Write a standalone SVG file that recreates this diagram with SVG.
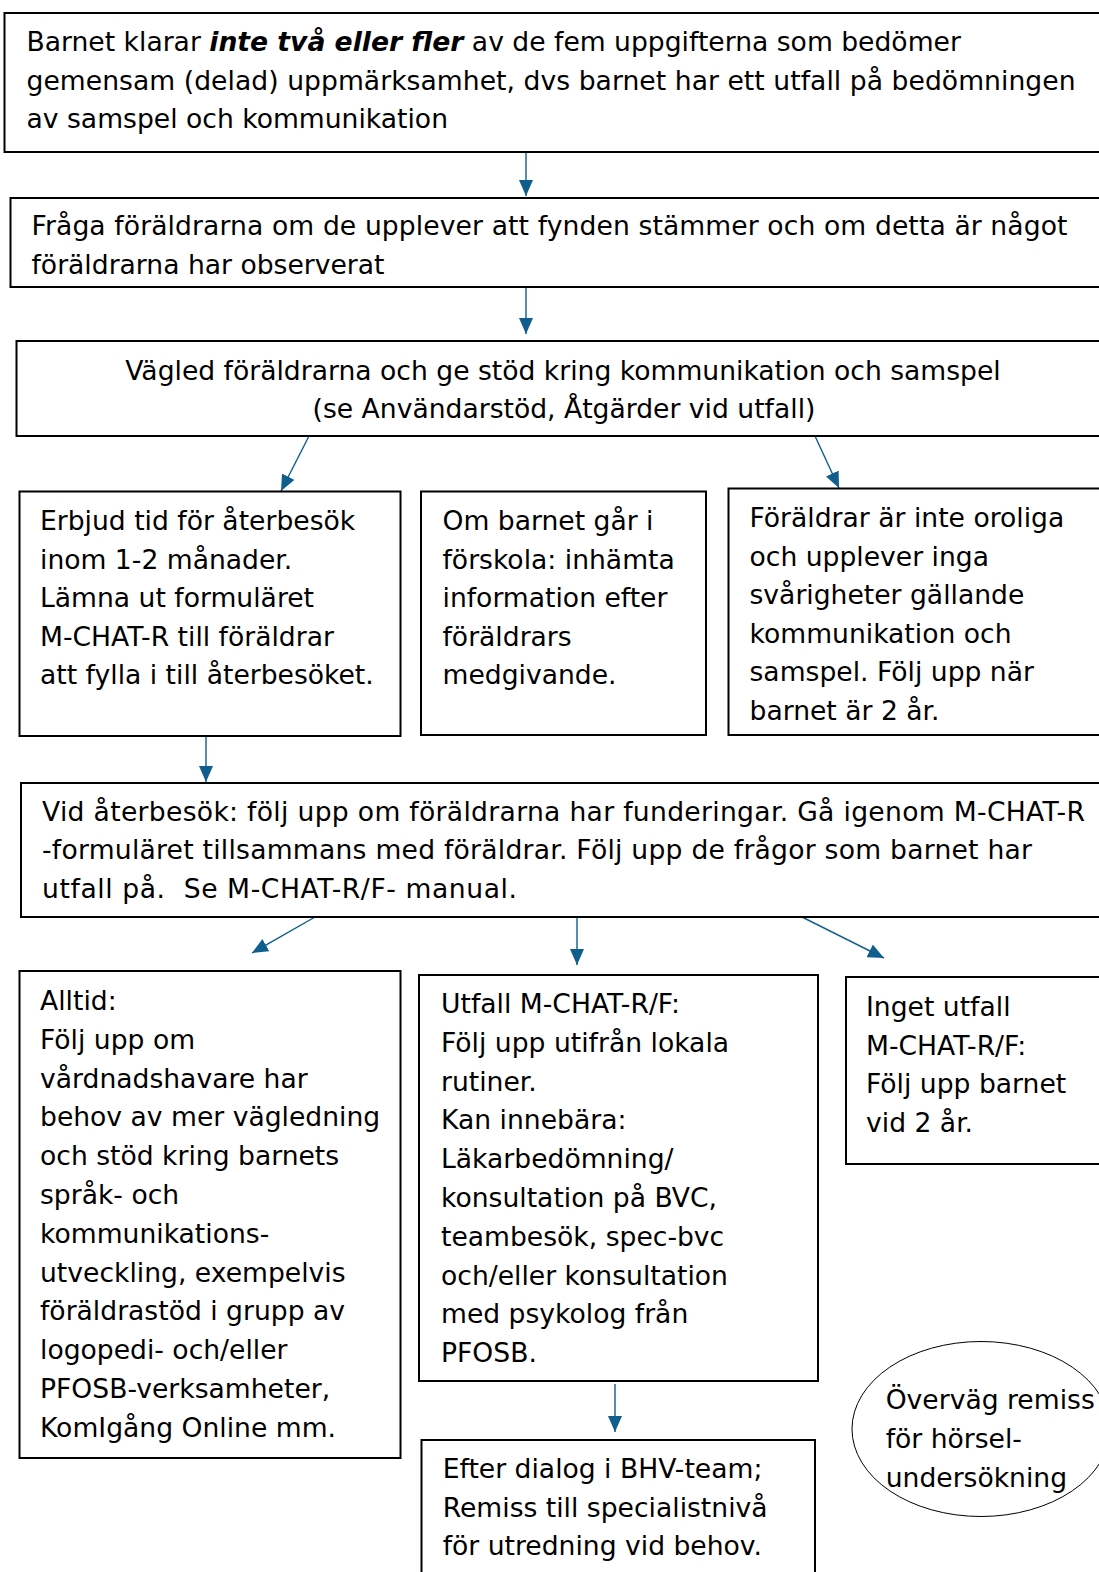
<svg xmlns="http://www.w3.org/2000/svg" width="1099" height="1572" viewBox="0 0 1099 1572">
<style>
.box{fill:#fff;stroke:#000;stroke-width:2}
.t{font-family:"DejaVu Sans","Noto Sans",sans-serif;font-size:26.6px;fill:#000;white-space:pre}
.c{text-anchor:middle}
.bi{font-weight:bold;font-style:italic}
.arr{stroke:#0f5e8d;stroke-width:1.4;fill:none;marker-end:url(#ah)}
</style>
<defs>
<marker id="ah" viewBox="0 0 16 14" refX="16" refY="7" markerWidth="16" markerHeight="14" markerUnits="userSpaceOnUse" orient="auto">
<path d="M0,0 L16,7 L0,14 z" fill="#0f5e8d"/>
</marker>
</defs>
<rect width="1099" height="1572" fill="#fff"/>

<g id="connectors">
<line class="arr" x1="526" y1="148" x2="526" y2="196"/>
<line class="arr" x1="526" y1="287" x2="526" y2="334"/>
<line class="arr" x1="309" y1="436" x2="281" y2="491"/>
<line class="arr" x1="815" y1="436" x2="839" y2="488"/>
<line class="arr" x1="206" y1="736" x2="206" y2="782"/>
<line class="arr" x1="315" y1="917" x2="252" y2="953"/>
<line class="arr" x1="577" y1="917" x2="577" y2="965"/>
<line class="arr" x1="802" y1="917" x2="884" y2="958"/>
<line class="arr" x1="615" y1="1384" x2="615" y2="1432"/>
</g>

<g id="n1">
<rect class="box" x="4.5" y="13" width="1110" height="139"/>
<text class="t" x="26.5" y="51">Barnet klarar <tspan class="bi">inte två eller fler</tspan> av de fem uppgifterna som bedömer</text>
<text class="t" x="26.5" y="89.6" textLength="1049" lengthAdjust="spacing">gemensam (delad) uppmärksamhet, dvs barnet har ett utfall på bedömningen</text>
<text class="t" x="26.5" y="128.2">av samspel och kommunikation</text>
</g>

<g id="n2">
<rect class="box" x="10.5" y="198" width="1100" height="89"/>
<text class="t" x="31.5" y="235" textLength="1036" lengthAdjust="spacing">Fråga föräldrarna om de upplever att fynden stämmer och om detta är något</text>
<text class="t" x="31.5" y="273.5">föräldrarna har observerat</text>
</g>

<g id="n3">
<rect class="box" x="16.5" y="341" width="1100" height="95"/>
<text class="t c" x="563" y="379.5">Vägled föräldrarna och ge stöd kring kommunikation och samspel</text>
<text class="t c" x="564" y="418">(se Användarstöd, Åtgärder vid utfall)</text>
</g>

<g id="n4">
<rect class="box" x="19.5" y="491.5" width="381" height="244.5"/>
<text class="t" x="40" y="530">Erbjud tid för återbesök</text>
<text class="t" x="40" y="568.6">inom 1-2 månader.</text>
<text class="t" x="40" y="607.2">Lämna ut formuläret</text>
<text class="t" x="40" y="645.8">M-CHAT-R till föräldrar</text>
<text class="t" x="40" y="684.4">att fylla i till återbesöket.</text>
</g>

<g id="n5">
<rect class="box" x="421" y="491.5" width="285" height="243.5"/>
<text class="t" x="442.5" y="530">Om barnet går i</text>
<text class="t" x="442.5" y="568.6">förskola: inhämta</text>
<text class="t" x="442.5" y="607.2">information efter</text>
<text class="t" x="442.5" y="645.8">föräldrars</text>
<text class="t" x="442.5" y="684.4">medgivande.</text>
</g>

<g id="n6">
<rect class="box" x="728.5" y="488.5" width="400" height="246.5"/>
<text class="t" x="749.5" y="527">Föräldrar är inte oroliga</text>
<text class="t" x="749.5" y="565.6">och upplever inga</text>
<text class="t" x="749.5" y="604.2">svårigheter gällande</text>
<text class="t" x="749.5" y="642.8">kommunikation och</text>
<text class="t" x="749.5" y="681.4">samspel. Följ upp när</text>
<text class="t" x="749.5" y="720">barnet är 2 år.</text>
</g>

<g id="n7">
<rect class="box" x="21" y="783" width="1100" height="134"/>
<text class="t" x="42" y="820.5" textLength="1043" lengthAdjust="spacing">Vid återbesök: följ upp om föräldrarna har funderingar. Gå igenom M-CHAT-R</text>
<text class="t" x="42" y="859" textLength="990" lengthAdjust="spacing">-formuläret tillsammans med föräldrar. Följ upp de frågor som barnet har</text>
<text class="t" x="42" y="897.5" textLength="475" lengthAdjust="spacing">utfall på.  Se M-CHAT-R/F- manual.</text>
</g>

<g id="n8">
<rect class="box" x="19.5" y="971" width="381" height="487"/>
<text class="t" x="40" y="1010">Alltid:</text>
<text class="t" x="40" y="1048.8">Följ upp om</text>
<text class="t" x="40" y="1087.6">vårdnadshavare har</text>
<text class="t" x="40" y="1126.4">behov av mer vägledning</text>
<text class="t" x="40" y="1165.2">och stöd kring barnets</text>
<text class="t" x="40" y="1204">språk- och</text>
<text class="t" x="40" y="1242.8">kommunikations-</text>
<text class="t" x="40" y="1281.6">utveckling, exempelvis</text>
<text class="t" x="40" y="1320.4">föräldrastöd i grupp av</text>
<text class="t" x="40" y="1359.2">logopedi- och/eller</text>
<text class="t" x="40" y="1398">PFOSB-verksamheter,</text>
<text class="t" x="40" y="1436.8">KomIgång Online mm.</text>
</g>

<g id="n9">
<rect class="box" x="419" y="975" width="399" height="406"/>
<text class="t" x="441" y="1013">Utfall M-CHAT-R/F:</text>
<text class="t" x="441" y="1051.8">Följ upp utifrån lokala</text>
<text class="t" x="441" y="1090.6">rutiner.</text>
<text class="t" x="441" y="1129.4">Kan innebära:</text>
<text class="t" x="441" y="1168.2">Läkarbedömning/</text>
<text class="t" x="441" y="1207">konsultation på BVC,</text>
<text class="t" x="441" y="1245.8">teambesök, spec-bvc</text>
<text class="t" x="441" y="1284.6">och/eller konsultation</text>
<text class="t" x="441" y="1323.4">med psykolog från</text>
<text class="t" x="441" y="1362.2">PFOSB.</text>
</g>

<g id="n10">
<rect class="box" x="846" y="977" width="300" height="187"/>
<text class="t" x="866" y="1016">Inget utfall</text>
<text class="t" x="866" y="1054.7">M-CHAT-R/F:</text>
<text class="t" x="866" y="1093.4">Följ upp barnet</text>
<text class="t" x="866" y="1132.1">vid 2 år.</text>
</g>

<g id="n11">
<rect class="box" x="421.5" y="1440" width="393.5" height="200"/>
<text class="t" x="442.7" y="1478.3">Efter dialog i BHV-team;</text>
<text class="t" x="442.7" y="1516.7">Remiss till specialistnivå</text>
<text class="t" x="442.7" y="1555">för utredning vid behov.</text>
</g>

<g id="n12">
<ellipse cx="981" cy="1429" rx="129" ry="87.5" fill="none" stroke="#000" stroke-width="1"/>
<text class="t" x="885.7" y="1409.3">Överväg remiss</text>
<text class="t" x="885.7" y="1448">för hörsel-</text>
<text class="t" x="885.7" y="1486.7">undersökning</text>
</g>
</svg>
